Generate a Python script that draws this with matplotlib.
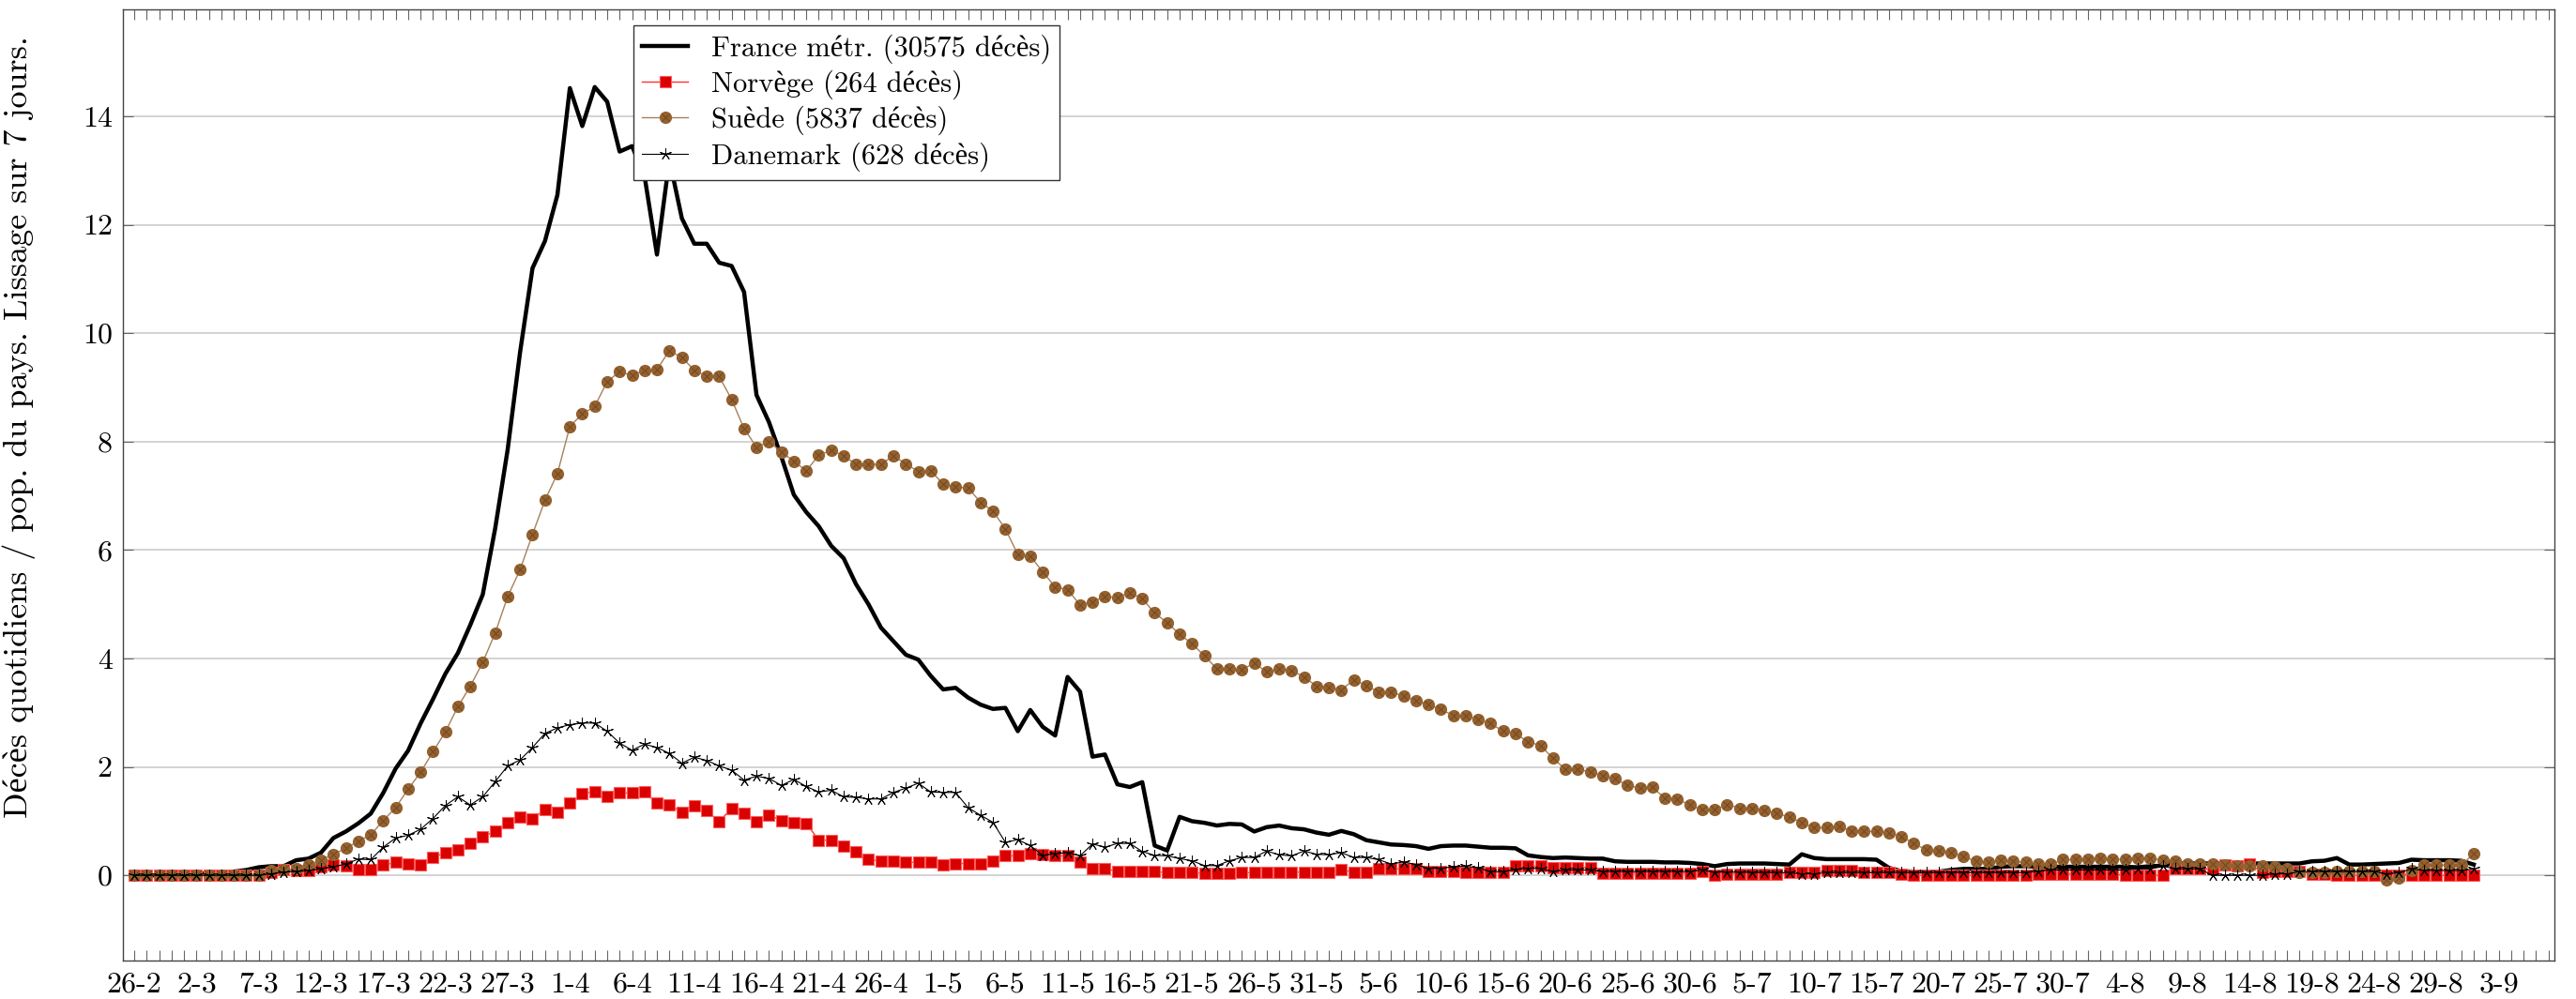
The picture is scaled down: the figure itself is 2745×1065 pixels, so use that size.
import numpy as np
import pandas as pd
import matplotlib
matplotlib.use('Agg')
import matplotlib.pyplot as plt
from matplotlib.legend_handler import HandlerTuple

plt.rcParams['font.family'] = ['cmr10', 'Liberation Serif']
plt.rcParams['axes.unicode_minus'] = False

# daily deaths per million inhabitants, 7-day smoothing, from 26 Feb 2020
dates = pd.date_range('2020-02-26', periods=189)

france = [0, 0, 0, 0.01, 0.02, 0.03, 0.04,
          0.05, 0.07, 0.1, 0.15, 0.17, 0.17,
          0.28, 0.31, 0.42, 0.69, 0.81, 0.96, 1.14,
          1.52, 1.97, 2.3, 2.8, 3.25, 3.72, 4.1, 4.62, 5.18, 6.4,
          7.85, 9.65, 11.2, 11.7, 12.55, 14.52, 13.82, 14.54, 14.27, 13.35,
          13.45, 12.9, 11.45, 13.2, 12.12, 11.65, 11.65, 11.3, 11.24, 10.76,
          8.86, 8.36, 7.72, 7.02, 6.7, 6.44, 6.08, 5.85, 5.37, 5.0,
          4.57, 4.32, 4.07, 3.98, 3.68, 3.43, 3.46, 3.28, 3.15, 3.07,
          3.09, 2.66, 3.05, 2.74, 2.58, 3.66, 3.39, 2.19, 2.23, 1.68,
          1.63, 1.72, 0.55, 0.46, 1.08, 1.0, 0.97, 0.92, 0.95, 0.94,
          0.81, 0.89, 0.92, 0.87, 0.85, 0.79, 0.75, 0.82, 0.76, 0.65,
          0.61, 0.57, 0.56, 0.54, 0.49, 0.54, 0.55, 0.55, 0.53, 0.51,
          0.51, 0.5, 0.37, 0.34, 0.32, 0.33, 0.32, 0.31, 0.31, 0.26,
          0.25, 0.25, 0.25, 0.24, 0.24, 0.23, 0.21, 0.17, 0.21, 0.22,
          0.22, 0.22, 0.21, 0.2, 0.39, 0.32, 0.3, 0.3, 0.3, 0.3,
          0.29, 0.14, 0.08, 0.07, 0.07, 0.07, 0.1, 0.12, 0.12, 0.12,
          0.16, 0.17, 0.17, 0.16, 0.16, 0.16, 0.16, 0.16, 0.16, 0.16,
          0.16, 0.15, 0.17, 0.18, 0.23, 0.22, 0.22, 0.22, 0.22, 0.22,
          0.22, 0.22, 0.22, 0.22, 0.22, 0.26, 0.27, 0.32, 0.2, 0.2,
          0.21, 0.22, 0.23, 0.29, 0.28, 0.28, 0.28, 0.27, 0.2]

norvege = [0] * 11 + [
          0.06, 0.1, 0.09, 0.09, 0.16, 0.19, 0.18, 0.1, 0.1,
          0.19, 0.24, 0.21, 0.19, 0.33, 0.42, 0.47, 0.59, 0.72, 0.81,
          0.97, 1.07, 1.05, 1.21, 1.17, 1.33, 1.51, 1.54, 1.45, 1.52,
          1.52, 1.54, 1.33, 1.3, 1.17, 1.29, 1.2, 0.99, 1.24, 1.15,
          0.99, 1.12, 1.01, 0.98, 0.96, 0.65, 0.65, 0.54, 0.43, 0.29,
          0.27, 0.27, 0.24, 0.24, 0.24, 0.19, 0.22, 0.22, 0.22, 0.27,
          0.36, 0.36, 0.4, 0.39, 0.36, 0.36, 0.24, 0.13, 0.13, 0.07,
          0.07, 0.07, 0.07, 0.05, 0.05, 0.05, 0.04, 0.04, 0.04, 0.05,
          0.05, 0.06, 0.06, 0.06, 0.06, 0.06, 0.06, 0.1, 0.06, 0.06,
          0.12, 0.12, 0.12, 0.12, 0.07, 0.07, 0.08, 0.06, 0.06, 0.06,
          0.06, 0.17, 0.17, 0.17, 0.15, 0.15, 0.15, 0.15, 0.04, 0.04,
          0.04, 0.04, 0.04, 0.04, 0.04, 0.04, 0.07, 0.01, 0.03, 0.03,
          0.03, 0.03, 0.03, 0.05, 0.05, 0.05, 0.09, 0.09, 0.09, 0.05,
          0.05, 0.05, 0.03, 0.0, 0.0, 0.0, 0.0, 0.0, 0.0, 0.0,
          0.0, 0.0, 0.0, 0.03, 0.03, 0.03, 0.03, 0.03, 0.03, 0.03,
          0.0, 0.0, 0.0, 0.0, 0.12, 0.12, 0.12, 0.12, 0.2, 0.18,
          0.21, 0.06, 0.07, 0.07, 0.07, 0.03, 0.03, 0.0, 0.0, 0.0,
          0.0, 0.0, 0.0, 0.0, 0.0, 0.0, 0.0, 0.0, 0.0]

suede = [0] * 11 + [
          0.09, 0.1, 0.12, 0.19, 0.28, 0.39, 0.5, 0.63, 0.75,
          1.01, 1.25, 1.59, 1.9, 2.28, 2.65, 3.11, 3.49, 3.93, 4.47,
          5.14, 5.64, 6.29, 6.92, 7.41, 8.28, 8.51, 8.65, 9.11, 9.29,
          9.22, 9.32, 9.33, 9.68, 9.55, 9.32, 9.2, 9.2, 8.78, 8.24,
          7.9, 8.0, 7.81, 7.64, 7.46, 7.75, 7.84, 7.74, 7.58, 7.58,
          7.58, 7.74, 7.59, 7.45, 7.46, 7.22, 7.16, 7.15, 6.88, 6.72,
          6.39, 5.92, 5.89, 5.6, 5.32, 5.27, 4.99, 5.04, 5.15, 5.12,
          5.22, 5.1, 4.84, 4.66, 4.45, 4.27, 4.05, 3.81, 3.81, 3.79,
          3.92, 3.75, 3.81, 3.78, 3.66, 3.49, 3.47, 3.42, 3.61, 3.5,
          3.38, 3.38, 3.31, 3.22, 3.15, 3.06, 2.95, 2.94, 2.88, 2.8,
          2.66, 2.62, 2.46, 2.4, 2.16, 1.96, 1.96, 1.91, 1.84, 1.78,
          1.66, 1.61, 1.63, 1.42, 1.41, 1.3, 1.21, 1.21, 1.31, 1.24,
          1.24, 1.2, 1.14, 1.08, 0.97, 0.88, 0.88, 0.91, 0.81, 0.81,
          0.81, 0.79, 0.72, 0.59, 0.47, 0.46, 0.42, 0.35, 0.26, 0.24,
          0.28, 0.26, 0.24, 0.21, 0.21, 0.29, 0.29, 0.29, 0.32, 0.29,
          0.3, 0.32, 0.32, 0.28, 0.27, 0.22, 0.22, 0.22, 0.2, 0.17,
          0.18, 0.17, 0.16, 0.13, 0.06, 0.05, 0.06, 0.07, 0.07, 0.07,
          0.07, -0.09, -0.04, 0.09, 0.19, 0.19, 0.19, 0.19, 0.4]

danemark = [0] * 11 + [
          0.03, 0.06, 0.07, 0.09, 0.12, 0.16, 0.21, 0.3, 0.29,
          0.52, 0.69, 0.74, 0.85, 1.05, 1.29, 1.45, 1.3, 1.45, 1.73,
          2.02, 2.13, 2.36, 2.62, 2.72, 2.78, 2.81, 2.81, 2.66, 2.44,
          2.31, 2.42, 2.36, 2.25, 2.07, 2.18, 2.12, 2.02, 1.94, 1.76,
          1.83, 1.79, 1.66, 1.77, 1.64, 1.54, 1.57, 1.45, 1.44, 1.41,
          1.41, 1.53, 1.61, 1.7, 1.54, 1.53, 1.53, 1.25, 1.11, 0.98,
          0.61, 0.66, 0.55, 0.37, 0.4, 0.42, 0.36, 0.58, 0.52, 0.59,
          0.59, 0.44, 0.37, 0.36, 0.31, 0.27, 0.18, 0.18, 0.27, 0.33,
          0.33, 0.45, 0.38, 0.36, 0.45, 0.39, 0.38, 0.42, 0.33, 0.33,
          0.29, 0.21, 0.25, 0.2, 0.13, 0.13, 0.16, 0.17, 0.14, 0.07,
          0.07, 0.11, 0.13, 0.13, 0.07, 0.1, 0.1, 0.1, 0.07, 0.07,
          0.07, 0.07, 0.07, 0.07, 0.07, 0.07, 0.1, 0.06, 0.06, 0.06,
          0.05, 0.05, 0.05, 0.05, 0.03, 0.03, 0.05, 0.05, 0.05, 0.05,
          0.05, 0.05, 0.05, 0.05, 0.05, 0.05, 0.05, 0.05, 0.05, 0.05,
          0.05, 0.05, 0.05, 0.08, 0.1, 0.1, 0.1, 0.1, 0.1, 0.1,
          0.1, 0.12, 0.12, 0.17, 0.12, 0.12, 0.12, 0.0, 0.0, 0.0,
          0.0, 0.0, 0.03, 0.03, 0.07, 0.07, 0.07, 0.07, 0.07, 0.07,
          0.07, 0.03, 0.05, 0.12, 0.09, 0.09, 0.09, 0.09, 0.12]

labels = ['France métr. (30575 décès)', 'Norvège (264 décès)',
          'Suède (5837 décès)', 'Danemark (628 décès)']

days = np.arange(len(dates))
tick_dates = pd.date_range('2020-02-26', '2020-09-03', freq='5D')
tick_pos = (tick_dates - dates[0]).days
tick_labels = [f'{d.day}-{d.month}' for d in tick_dates]

fig = plt.figure(figsize=(27.45, 10.65), dpi=100)
ax = fig.add_axes([0.0477, 0.0385, 0.944, 0.952])

fr, = ax.plot(days, france, color='black', lw=3.2)
no, = ax.plot(days, norvege, color='#ff3030', lw=1.0, marker='s', ms=8,
              mfc='#d90000', mec='#ff5a5a', mew=0.8)
sw, = ax.plot(days, suede, color='#a6805c', lw=1.0, marker='o', ms=8.5,
              mfc='#94612f', mec='#94612f')
sw_x, = ax.plot(days, suede, ls='none', marker='x', ms=5.5, mec='#6a431f', mew=0.6)
da, = ax.plot(days, danemark, color='black', lw=0.8, marker=(5, 2, 0), ms=9,
              mec='black', mew=0.7)

ax.set_xlim(-0.92, 194.5)
ax.set_ylim(-1.57, 15.97)
ax.set_xticks(tick_pos)
ax.set_xticklabels(tick_labels)
ax.set_xticks(days.tolist() + [189, 190, 191, 192, 193, 194], minor=True)
ax.set_yticks(np.arange(0, 15, 2))

ax.tick_params(axis='both', which='both', direction='in', top=True, right=True,
               color='#666666', width=0.8, labelsize=23)
ax.tick_params(axis='x', which='both', length=8, pad=9)
ax.tick_params(axis='y', length=8, pad=8)
ax.grid(axis='y', color='#cccccc', lw=1.2)
ax.set_axisbelow(True)
for s in ax.spines.values():
    s.set_color('#444444')
    s.set_linewidth(1.0)

ax.set_ylabel('Décès quotidiens / pop. du pays. Lissage sur 7 jours.', fontsize=26)
ax.yaxis.set_label_coords(-0.036, 0.561)

leg = ax.legend([fr, no, (sw, sw_x), da], labels, loc='upper left',
                bbox_to_anchor=(0.210, 0.983), borderaxespad=0, fontsize=22,
                fancybox=False, framealpha=1, edgecolor='#333333',
                handlelength=1.6, labelspacing=0.22, borderpad=0.3,
                handletextpad=0.8,
                handler_map={tuple: HandlerTuple(ndivide=1)})
leg.get_frame().set_linewidth(1.0)

fig.savefig('out.png', dpi=100)
